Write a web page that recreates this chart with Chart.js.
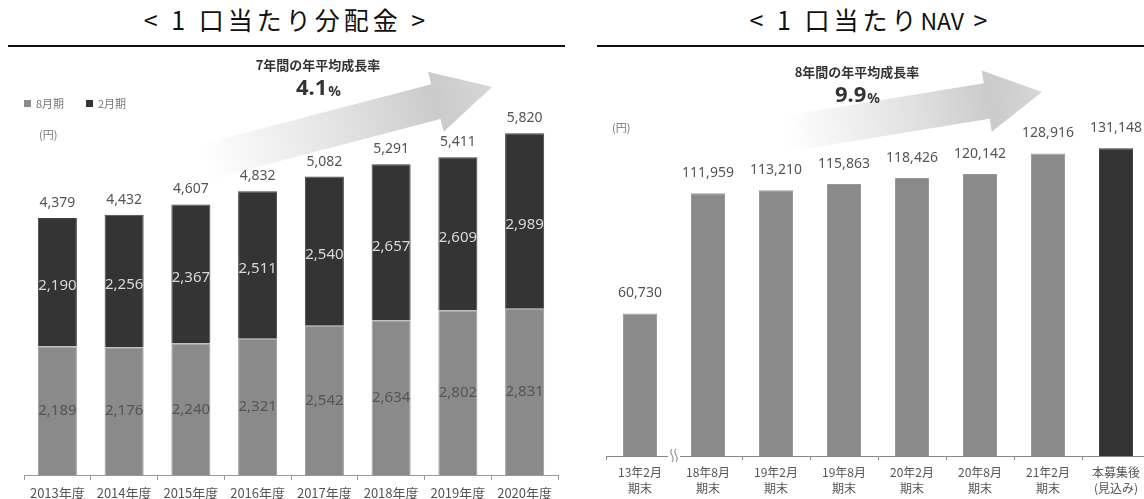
<!DOCTYPE html>
<html lang="ja">
<head>
<meta charset="utf-8">
<title>1口当たり分配金・1口当たりNAV</title>
<script src="https://cdn.jsdelivr.net/npm/chart.js@4.4.1/dist/chart.umd.min.js"></script>
<style>
    html, body { margin: 0; padding: 0; background: #fff; width: 1144px; height: 499px; overflow: hidden; position: relative; }
    .panel-title { position: absolute; top: 1px; font-family: "Noto Sans CJK JP", sans-serif; font-size: 25px; color: #111; text-align: center; letter-spacing: 4px; line-height: 36px; }
    .panel-title .narrow { letter-spacing: 0; font-size: 23px; }
    .rule { position: absolute; top: 45px; height: 2px; background: #111; }
    canvas { position: absolute; }
</style>
</head>
<body>
<div class="panel-title" style="left:8px;width:557px;">&lt; 1 口当たり分配金 &gt;</div>
<div class="rule" style="left:8px;width:557px;"></div>
<div class="panel-title" style="left:597px;width:547px;">&lt; 1 口当たり<span class="narrow">NAV</span> &gt;</div>
<div class="rule" style="left:597px;width:547px;"></div>

<canvas id="dividend" width="575" height="455" style="left:0;top:50px;"></canvas>
<canvas id="nav" width="570" height="446" style="left:590px;top:50px;"></canvas>

<script>
// 分配金
const fiscalYears = ['2013年度', '2014年度', '2015年度', '2016年度', '2017年度', '2018年度', '2019年度', '2020年度'];
const augPeriod = [2189, 2176, 2240, 2321, 2542, 2634, 2802, 2831];
const febPeriod = [2190, 2256, 2367, 2511, 2540, 2657, 2609, 2989];

// NAV
const navPeriods = [['13年2月', '期末'], ['18年8月', '期末'], ['19年2月', '期末'], ['19年8月', '期末'], ['20年2月', '期末'], ['20年8月', '期末'], ['21年2月', '期末'], ['本募集後', '(見込み)']];
const navValues = [60730, 111959, 113210, 115863, 118426, 120142, 128916, 131148];

const lightGray = '#8a8a8a';
const darkGray = '#343434';
const jpFont = '"Noto Sans CJK JP", sans-serif';
const numFont = '"Noto Sans", sans-serif';

function fmt(v) {
    return v.toLocaleString('en-US');
}

// 右上がりのグラデーション矢印
function drawArrow(ctx, x0, y0, x1, y1, shaft, head, headLen) {
    const len = Math.hypot(x1 - x0, y1 - y0);
    ctx.save();
    ctx.translate(x0, y0);
    ctx.rotate(Math.atan2(y1 - y0, x1 - x0));
    const g = ctx.createLinearGradient(0, 0, len, 0);
    g.addColorStop(0, 'rgba(200, 200, 200, 0)');
    g.addColorStop(0.5, 'rgba(200, 200, 200, 0.55)');
    g.addColorStop(0.8, 'rgba(200, 200, 200, 0.95)');
    g.addColorStop(1, 'rgba(215, 215, 215, 1)');
    ctx.fillStyle = g;
    ctx.beginPath();
    ctx.moveTo(0, -shaft / 2);
    ctx.lineTo(len - headLen, -shaft / 2);
    ctx.lineTo(len - headLen, -head / 2);
    ctx.lineTo(len, 0);
    ctx.lineTo(len - headLen, head / 2);
    ctx.lineTo(len - headLen, shaft / 2);
    ctx.lineTo(0, shaft / 2);
    ctx.closePath();
    ctx.fill();
    ctx.restore();
}

// 成長率の見出し
function drawGrowth(ctx, cx, y, caption, rate) {
    ctx.save();
    ctx.fillStyle = '#333';
    ctx.textAlign = 'center';
    ctx.textBaseline = 'middle';
    ctx.font = 'bold 13px ' + jpFont;
    ctx.fillText(caption, cx, y);
    ctx.font = 'bold 22px ' + numFont;
    const w1 = ctx.measureText(rate).width;
    ctx.font = 'bold 14px ' + numFont;
    const w2 = ctx.measureText('%').width;
    const left = cx - (w1 + w2) / 2;
    ctx.textAlign = 'left';
    ctx.font = 'bold 22px ' + numFont;
    ctx.fillText(rate, left, y + 24);
    ctx.font = 'bold 14px ' + numFont;
    ctx.fillText('%', left + w1 + 1, y + 27);
    ctx.restore();
}

const dividendDecor = {
    id: 'dividendDecor',
    beforeDatasetsDraw(chart) {
        const { ctx } = chart;
        drawArrow(ctx, 205, 112, 492, 37, 36, 62, 58);
        drawGrowth(ctx, 318, 15, '7年間の年平均成長率', '4.1');

        // 凡例
        ctx.save();
        ctx.font = '11px ' + jpFont;
        ctx.textBaseline = 'middle';
        let x = 24;
        chart.data.datasets.forEach(ds => {
            ctx.fillStyle = ds.backgroundColor;
            ctx.fillRect(x, 50, 7, 7);
            ctx.fillStyle = '#777';
            ctx.fillText(ds.label, x + 12, 54);
            x += 62;
        });
        ctx.fillText('(円)', 39, 85);
        ctx.restore();
    },
    afterDatasetsDraw(chart) {
        const { ctx } = chart;
        const bottom = chart.getDatasetMeta(0).data;
        const top = chart.getDatasetMeta(1).data;
        ctx.save();
        ctx.textAlign = 'center';
        ctx.textBaseline = 'middle';
        bottom.forEach((bar, i) => {
            ctx.font = '15px ' + numFont;
            ctx.fillStyle = '#555';
            ctx.fillText(fmt(augPeriod[i]), bar.x, (bar.y + bar.base) / 2);
            const t = top[i];
            ctx.fillStyle = '#d8d8d8';
            ctx.fillText(fmt(febPeriod[i]), t.x, (t.y + t.base) / 2 + 4);
            ctx.font = '14px ' + numFont;
            ctx.fillStyle = '#555';
            ctx.fillText(fmt(augPeriod[i] + febPeriod[i]), t.x, t.y - 15);
        });
        ctx.restore();
    }
};

const navDecor = {
    id: 'navDecor',
    beforeDatasetsDraw(chart) {
        const { ctx } = chart;
        drawArrow(ctx, 195, 84, 452, 42, 36, 62, 56);
        drawGrowth(ctx, 267, 22, '8年間の年平均成長率', '9.9');
        ctx.save();
        ctx.font = '11px ' + jpFont;
        ctx.fillStyle = '#777';
        ctx.textBaseline = 'middle';
        ctx.fillText('(円)', 22, 78);
        ctx.restore();
    },
    afterDatasetsDraw(chart) {
        const { ctx, chartArea, scales: { x } } = chart;
        ctx.save();
        ctx.textAlign = 'center';
        ctx.textBaseline = 'middle';
        ctx.font = '14px ' + numFont;
        ctx.fillStyle = '#555';
        chart.getDatasetMeta(0).data.forEach((bar, i) => {
            ctx.fillText(fmt(navValues[i]), bar.x, bar.y - 20);
        });

        // 軸の省略記号
        const bx = (x.getPixelForValue(0) + x.getPixelForValue(1)) / 2;
        const by = chartArea.bottom;
        ctx.fillStyle = '#fff';
        ctx.fillRect(bx - 6, by - 3, 12, 8);
        ctx.strokeStyle = '#777';
        ctx.lineWidth = 1;
        [-2, 2].forEach(dx => {
            ctx.beginPath();
            ctx.moveTo(bx + dx, by - 7);
            ctx.bezierCurveTo(bx + dx - 4, by - 3, bx + dx + 4, by + 1, bx + dx, by + 6);
            ctx.stroke();
        });
        ctx.restore();
    }
};

Chart.defaults.font.family = jpFont;

new Chart(document.getElementById('dividend'), {
    type: 'bar',
    data: {
        labels: fiscalYears,
        datasets: [{
            label: '8月期',
            data: augPeriod,
            backgroundColor: lightGray,
            borderColor: '#9a9a9a',
            borderWidth: 1
        }, {
            label: '2月期',
            data: febPeriod,
            backgroundColor: darkGray,
            borderColor: '#444',
            borderWidth: 1
        }]
    },
    options: {
        responsive: false,
        animation: false,
        layout: { padding: { left: 24, right: 17, top: 14, bottom: 0 } },
        plugins: {
            legend: { display: false },
            tooltip: { enabled: false }
        },
        datasets: {
            bar: { categoryPercentage: 1, barPercentage: 0.585 }
        },
        scales: {
            x: {
                stacked: true,
                afterFit: (scale) => { scale.height = 30; },
                border: { color: '#999' },
                grid: { drawOnChartArea: false, tickLength: 5, color: '#999' },
                ticks: { color: '#555', padding: 5, font: { size: 13 } }
            },
            y: {
                stacked: true,
                display: false,
                min: 0,
                max: 7000
            }
        }
    },
    plugins: [dividendDecor]
});

new Chart(document.getElementById('nav'), {
    type: 'bar',
    data: {
        labels: navPeriods,
        datasets: [{
            label: '1口当たりNAV',
            data: navValues,
            backgroundColor: navValues.map((v, i) => i === navValues.length - 1 ? darkGray : lightGray),
            borderColor: navValues.map((v, i) => i === navValues.length - 1 ? '#444' : '#9a9a9a'),
            borderWidth: 1
        }]
    },
    options: {
        responsive: false,
        animation: false,
        layout: { padding: { left: 16, right: 10, top: 7, bottom: 0 } },
        plugins: {
            legend: { display: false },
            tooltip: { enabled: false }
        },
        datasets: {
            bar: { categoryPercentage: 1, barPercentage: 0.5 }
        },
        scales: {
            x: {
                afterFit: (scale) => { scale.height = 40; },
                border: { color: '#888' },
                grid: { drawOnChartArea: false, tickLength: 4, color: '#888' },
                ticks: { color: '#555', padding: 4, font: { size: 12, lineHeight: 1.35 } }
            },
            y: {
                display: false,
                min: 0,
                max: 170000
            }
        }
    },
    plugins: [navDecor]
});
</script>
</body>
</html>
